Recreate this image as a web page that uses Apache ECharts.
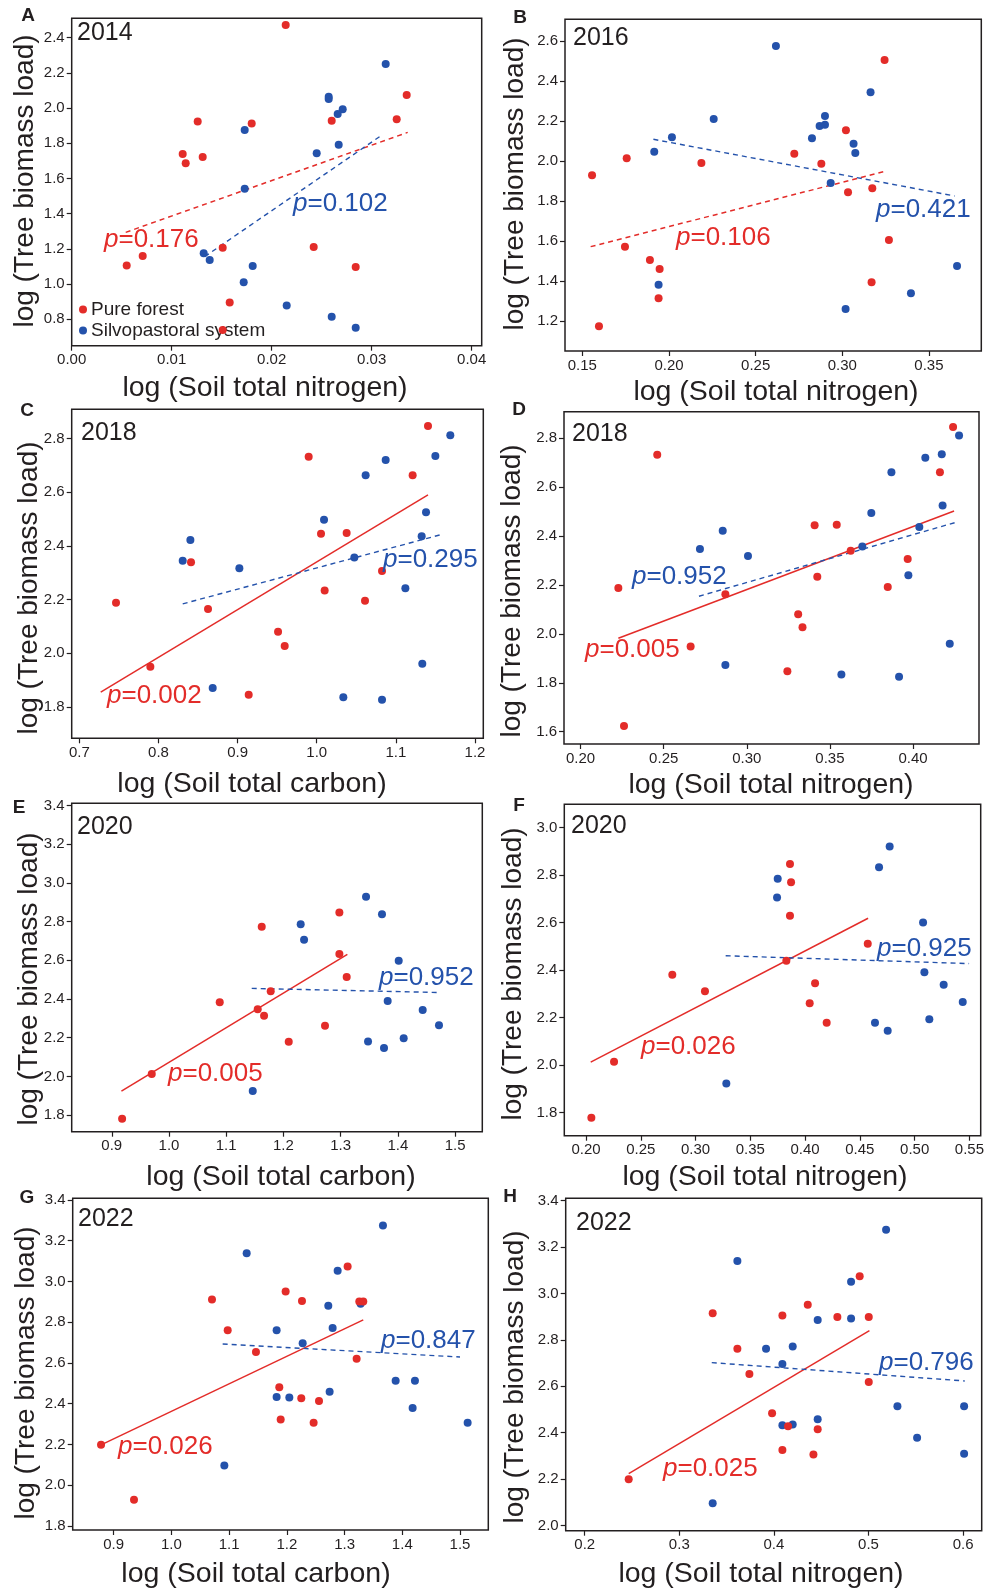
<!DOCTYPE html>
<html>
<head>
<meta charset="utf-8">
<script src="https://cdn.jsdelivr.net/npm/echarts@6/dist/echarts.min.js"></script>
<style>html,body{margin:0;padding:0;background:#fff;}#c{width:988px;height:1588px;}</style>
</head>
<body>
<div id="c"></div>
<script>
// ---------------- DATA ----------------
const panelLetters = ['A','B','C','D','E','F','G','H'];
const years = ['2014','2016','2018','2018','2020','2020','2022','2022'];
const pRed = ['0.176','0.106','0.002','0.005','0.005','0.026','0.026','0.025'];
const pBlue = ['0.102','0.421','0.295','0.952','0.952','0.925','0.847','0.796'];
const xTitles = ['log (Soil total nitrogen)','log (Soil total nitrogen)','log (Soil total carbon)','log (Soil total nitrogen)',
                 'log (Soil total carbon)','log (Soil total nitrogen)','log (Soil total carbon)','log (Soil total nitrogen)'];
const yTitle = 'log (Tree biomass load)';
const legendNames = ['Pure forest','Silvopastoral system'];

const xTicksA = [0,0.01,0.02,0.03,0.04];
const yTicksA = [0.8,1.0,1.2,1.4,1.6,1.8,2.0,2.2,2.4];
const xTicksB = [0.15,0.20,0.25,0.30,0.35];
const yTicksB = [1.2,1.4,1.6,1.8,2.0,2.2,2.4,2.6];
const xTicksC = [0.7,0.8,0.9,1.0,1.1,1.2];
const yTicksC = [1.8,2.0,2.2,2.4,2.6,2.8];
const xTicksD = [0.20,0.25,0.30,0.35,0.40];
const yTicksD = [1.6,1.8,2.0,2.2,2.4,2.6,2.8];
const xTicksE = [0.9,1.0,1.1,1.2,1.3,1.4,1.5];
const yTicksE = [1.8,2.0,2.2,2.4,2.6,2.8,3.0,3.2,3.4];
const xTicksF = [0.20,0.25,0.30,0.35,0.40,0.45,0.50,0.55];
const yTicksF = [1.8,2.0,2.2,2.4,2.6,2.8,3.0];
const xTicksG = [0.9,1.0,1.1,1.2,1.3,1.4,1.5];
const yTicksG = [1.8,2.0,2.2,2.4,2.6,2.8,3.0,3.2,3.4];
const xTicksH = [0.2,0.3,0.4,0.5,0.6];
const yTicksH = [2.0,2.2,2.4,2.6,2.8,3.0,3.2,3.4];

const redA = [[0.0214,2.472],[0.0126,1.923],[0.018,1.913],[0.0111,1.739],[0.0114,1.686],[0.0131,1.722],[0.026,1.928],[0.0325,1.936],[0.0335,2.074],[0.0151,1.207],[0.0242,1.211],[0.0055,1.106],[0.0071,1.159],[0.0284,1.097],[0.0158,0.896],[0.0151,0.739]];
const blueA = [[0.0314,2.25],[0.0257,2.065],[0.0257,2.052],[0.0271,1.993],[0.0266,1.966],[0.0267,1.792],[0.0245,1.743],[0.0173,1.875],[0.0173,1.542],[0.0132,1.175],[0.0138,1.137],[0.0181,1.103],[0.0172,1.01],[0.0215,0.879],[0.026,0.815],[0.0284,0.752]];
const fitRedA = [[0.0054,1.294],[0.0336,1.862]];
const fitBlueA = [[0.0133,1.156],[0.0308,1.838]];

const redB = [[0.3244,2.505],[0.3021,2.154],[0.2723,2.037],[0.2879,1.987],[0.2187,1.991],[0.1756,2.014],[0.1556,1.929],[0.3033,1.844],[0.3173,1.864],[0.3269,1.606],[0.3169,1.395],[0.1746,1.573],[0.189,1.506],[0.1946,1.461],[0.194,1.315],[0.1596,1.175]];
const blueB = [[0.2617,2.575],[0.3163,2.344],[0.2258,2.21],[0.29,2.225],[0.2869,2.175],[0.29,2.182],[0.2825,2.114],[0.2017,2.119],[0.1915,2.047],[0.3065,2.087],[0.3075,2.041],[0.2933,1.891],[0.194,1.383],[0.3019,1.262],[0.3396,1.34],[0.3662,1.476]];
const fitRedB = [[0.1548,1.573],[0.3237,1.947]];
const fitBlueB = [[0.191,2.109],[0.3648,1.826]];

const redC = [[1.1406,2.847],[0.9898,2.732],[1.1212,2.663],[1.0054,2.445],[1.0378,2.448],[0.8411,2.339],[1.0825,2.306],[1.01,2.234],[1.061,2.196],[0.7463,2.188],[0.8626,2.165],[0.9511,2.08],[0.9595,2.027],[0.7897,1.95],[0.914,1.845]];
const blueC = [[1.1688,2.812],[1.1499,2.735],[1.0871,2.72],[1.0618,2.663],[1.0092,2.497],[1.1381,2.525],[1.1326,2.436],[0.8403,2.422],[0.8306,2.345],[0.9022,2.317],[1.0475,2.357],[1.112,2.242],[1.1334,1.961],[0.8685,1.87],[1.0336,1.836],[1.0825,1.827]];
const fitRedC = [[0.727,1.855],[1.1406,2.59]];
const fitBlueC = [[0.8306,2.184],[1.1583,2.443]];

const redD = [[0.4241,2.846],[0.2461,2.733],[0.4162,2.661],[0.3408,2.444],[0.3541,2.447],[0.3625,2.34],[0.3968,2.306],[0.3424,2.234],[0.3848,2.192],[0.2227,2.188],[0.2871,2.162],[0.3309,2.08],[0.3335,2.027],[0.2662,1.948],[0.3244,1.847],[0.2261,1.623]];
const blueD = [[0.4277,2.812],[0.4173,2.735],[0.4074,2.721],[0.387,2.661],[0.3749,2.495],[0.4178,2.525],[0.4038,2.437],[0.3695,2.358],[0.2855,2.422],[0.2718,2.347],[0.3007,2.319],[0.3972,2.24],[0.4221,1.96],[0.2871,1.873],[0.3569,1.834],[0.3916,1.825]];
const fitRedD = [[0.2227,1.982],[0.4247,2.503]];
const fitBlueD = [[0.2712,2.154],[0.4251,2.455]];

const redE = [[1.2978,2.847],[1.1621,2.774],[1.2978,2.633],[1.3106,2.514],[1.1778,2.44],[1.0887,2.383],[1.1551,2.347],[1.1662,2.314],[1.2727,2.262],[1.2093,2.179],[0.9699,2.012],[0.9181,1.781]];
const blueE = [[1.3444,2.929],[1.3723,2.838],[1.2302,2.786],[1.2361,2.707],[1.4015,2.598],[1.3822,2.39],[1.4434,2.343],[1.4719,2.264],[1.3479,2.181],[1.3758,2.147],[1.4102,2.197],[1.1464,1.924]];
const fitRedE = [[0.9169,1.924],[1.3118,2.631]];
const fitBlueE = [[1.1446,2.455],[1.4678,2.434]];

const redF = [[0.3862,2.847],[0.3872,2.77],[0.3862,2.629],[0.4572,2.511],[0.3829,2.439],[0.2788,2.38],[0.3086,2.31],[0.4091,2.344],[0.4042,2.26],[0.4197,2.178],[0.2256,2.014],[0.2049,1.778]];
const blueF = [[0.4772,2.92],[0.4675,2.833],[0.375,2.784],[0.3744,2.705],[0.5077,2.6],[0.5089,2.39],[0.5265,2.338],[0.5439,2.265],[0.5134,2.193],[0.4638,2.178],[0.4754,2.144],[0.3281,1.922]];
const fitRedF = [[0.2043,2.012],[0.4575,2.618]];
const fitBlueF = [[0.3275,2.46],[0.5497,2.427]];

const redG = [[1.3053,3.073],[1.1979,2.95],[1.0703,2.911],[1.2262,2.904],[1.3255,2.901],[1.3324,2.901],[1.0975,2.76],[1.1465,2.654],[1.3209,2.621],[1.1869,2.481],[1.225,2.427],[1.2557,2.413],[1.1893,2.322],[1.2464,2.306],[0.8781,2.198],[0.9352,1.928]];
const blueG = [[1.3665,3.274],[1.1304,3.138],[1.288,3.052],[1.2718,2.881],[1.3278,2.891],[1.1823,2.76],[1.2793,2.772],[1.2274,2.697],[1.3885,2.512],[1.4219,2.512],[1.4179,2.379],[1.5132,2.306],[1.2741,2.459],[1.1823,2.433],[1.2043,2.43],[1.0917,2.096]];
const fitRedG = [[0.8781,2.198],[1.3324,2.811]];
const fitBlueG = [[1.0888,2.693],[1.5,2.629]];

const redH = [[0.4907,3.074],[0.4358,2.951],[0.3353,2.915],[0.409,2.905],[0.4671,2.899],[0.5003,2.899],[0.3614,2.762],[0.3741,2.653],[0.5003,2.619],[0.3981,2.484],[0.415,2.428],[0.4463,2.415],[0.409,2.326],[0.4418,2.306],[0.2465,2.2]];
const blueH = [[0.5186,3.275],[0.3614,3.14],[0.4816,3.051],[0.4463,2.886],[0.4816,2.892],[0.3917,2.762],[0.4199,2.772],[0.409,2.696],[0.5306,2.514],[0.6011,2.514],[0.5514,2.378],[0.6011,2.309],[0.4463,2.458],[0.409,2.432],[0.4199,2.435],[0.3353,2.096]];
const fitRedH = [[0.2465,2.224],[0.501,2.84]];
const fitBlueH = [[0.3343,2.702],[0.6018,2.623]];

// ---------------- LAYOUT / STYLE ----------------
const FONT = '"Liberation Sans", Arial, Helvetica, sans-serif';
const RED = '#e32c29', BLUE = '#2452ab', TXT = '#231f20';

const panels = [
  {red:redA, blue:blueA, fr:fitRedA, fb:fitBlueA, xt:xTicksA, yt:yTicksA, xd:2, yd:1, solid:false,
   g:[71.7,18.3,410,327.4], xr:[0,0.041], yr:[0.65,2.51], L:[28,16], Y:[77,33], PR:[104,240], PB:[293,204], XT:[265,388], YT:[25,181]},
  {red:redB, blue:blueB, fr:fitRedB, fb:fitBlueB, xt:xTicksB, yt:yTicksB, xd:2, yd:1, solid:false,
   g:[565,19.3,416.3,331.7], xr:[0.14,0.3802], yr:[1.052,2.708], L:[520,18], Y:[573,38], PR:[676,238], PB:[876,210], XT:[776,392], YT:[515,184]},
  {red:redC, blue:blueC, fr:fitRedC, fb:fitBlueC, xt:xTicksC, yt:yTicksC, xd:1, yd:1, solid:true,
   g:[71.7,409.3,411.6,329], xr:[0.6903,1.2105], yr:[1.683,2.909], L:[27,411], Y:[81,433], PR:[107,696], PB:[383,560], XT:[252,784], YT:[29,588]},
  {red:redD, blue:blueD, fr:fitRedD, fb:fitBlueD, xt:xTicksD, yt:yTicksD, xd:2, yd:1, solid:true,
   g:[564,411.7,415,332.3], xr:[0.19,0.4397], yr:[1.5495,2.909], L:[519,410], Y:[572,434], PR:[585,650], PB:[632,577], XT:[771,785], YT:[512,591]},
  {red:redE, blue:blueE, fr:fitRedE, fb:fitBlueE, xt:xTicksE, yt:yTicksE, xd:1, yd:1, solid:true,
   g:[71.7,803.3,410.6,328.4], xr:[0.83,1.5476], yr:[1.714,3.412], L:[19,808], Y:[77,827], PR:[168,1074], PB:[379,978], XT:[281,1177], YT:[29,979]},
  {red:redF, blue:blueF, fr:fitRedF, fb:fitBlueF, xt:xTicksF, yt:yTicksF, xd:2, yd:1, solid:true,
   g:[564.3,804.3,416.4,331.4], xr:[0.1802,0.5603], yr:[1.702,3.098], L:[519,806], Y:[571,826], PR:[641,1047], PB:[877,949], XT:[765,1177], YT:[513,974]},
  {red:redG, blue:blueG, fr:fitRedG, fb:fitBlueG, xt:xTicksG, yt:yTicksG, xd:1, yd:1, solid:true,
   g:[72.7,1198.3,415.6,331.7], xr:[0.829,1.549], yr:[1.78,3.408], L:[27,1198], Y:[78,1219], PR:[118,1447], PB:[381,1341], XT:[256,1574], YT:[26,1373]},
  {red:redH, blue:blueH, fr:fitRedH, fb:fitBlueH, xt:xTicksH, yt:yTicksH, xd:1, yd:1, solid:true,
   g:[565.7,1198.3,416,332.4], xr:[0.1799,0.6197], yr:[1.978,3.41], L:[510,1197], Y:[576,1223], PR:[663,1469], PB:[879,1363], XT:[761,1574], YT:[515,1377]}
];

const grid = [], xAxis = [], yAxis = [], series = [], graphic = [];
const tickStyle = {color: TXT, width: 1.2};

panels.forEach((p, i) => {
  grid.push({left:p.g[0], top:p.g[1], width:p.g[2], height:p.g[3], show:true,
             borderColor:TXT, borderWidth:1.5, backgroundColor:'transparent'});
  xAxis.push({type:'value', gridIndex:i, min:p.xr[0], max:p.xr[1],
    axisLine:{show:false}, splitLine:{show:false},
    axisTick:{show:true, length:5, customValues:p.xt, lineStyle:tickStyle},
    axisLabel:{customValues:p.xt, formatter:(v)=>Number(v).toFixed(p.xd), fontSize:15, color:TXT, margin:7, fontFamily:FONT}});
  yAxis.push({type:'value', gridIndex:i, min:p.yr[0], max:p.yr[1],
    axisLine:{show:false}, splitLine:{show:false},
    axisTick:{show:true, length:5, customValues:p.yt, lineStyle:tickStyle},
    axisLabel:{customValues:p.yt, formatter:(v)=>Number(v).toFixed(p.yd), fontSize:15, color:TXT, margin:7, fontFamily:FONT}});

  series.push({type:'line', xAxisIndex:i, yAxisIndex:i, data:p.fr, symbol:'none', silent:true, z:2,
               lineStyle:{color:RED, width:1.5, type: p.solid ? 'solid' : [5,4]}});
  series.push({type:'line', xAxisIndex:i, yAxisIndex:i, data:p.fb, symbol:'none', silent:true, z:2,
               lineStyle:{color:BLUE, width:1.4, type:[5,4]}});
  series.push({type:'scatter', name:legendNames[1], xAxisIndex:i, yAxisIndex:i, data:p.blue, symbolSize:8, z:3,
               itemStyle:{color:BLUE, opacity:1}});
  series.push({type:'scatter', name:legendNames[0], xAxisIndex:i, yAxisIndex:i, data:p.red, symbolSize:8, z:4,
               itemStyle:{color:RED, opacity:1}});

  graphic.push({type:'text', x:p.L[0], y:p.L[1], style:{text:panelLetters[i], font:'bold 19px '+FONT, fill:TXT, textAlign:'center', textVerticalAlign:'middle'}});
  graphic.push({type:'text', x:p.Y[0], y:p.Y[1], style:{text:years[i], font:'25px '+FONT, fill:TXT, textAlign:'left', textVerticalAlign:'middle'}});
  graphic.push({type:'text', x:p.PR[0], y:p.PR[1], z:10, style:{text:'{i|p}=' + pRed[i], font:'26px '+FONT, fill:RED, textAlign:'left', textVerticalAlign:'middle',
     rich:{i:{fontStyle:'italic', fontSize:26, fontFamily:FONT, fill:RED}}}});
  graphic.push({type:'text', x:p.PB[0], y:p.PB[1], z:10, style:{text:'{i|p}=' + pBlue[i], font:'26px '+FONT, fill:BLUE, textAlign:'left', textVerticalAlign:'middle',
     rich:{i:{fontStyle:'italic', fontSize:26, fontFamily:FONT, fill:BLUE}}}});
  graphic.push({type:'text', x:p.XT[0], y:p.XT[1], style:{text:xTitles[i], font:'28.5px '+FONT, fill:TXT, textAlign:'center', textVerticalAlign:'middle'}});
  graphic.push({type:'text', x:p.YT[0], y:p.YT[1], rotation:Math.PI/2, style:{text:yTitle, font:'28px '+FONT, fill:TXT, textAlign:'center', textVerticalAlign:'middle'}});
});

const option = {
  animation:false,
  backgroundColor:'#ffffff',
  grid, xAxis, yAxis, series, graphic,
  legend:{data:legendNames, orient:'vertical', left:79, top:300, padding:0, itemGap:2, itemWidth:8, itemHeight:8, icon:'circle',
          textStyle:{fontSize:19, color:TXT, fontFamily:FONT, padding:[0,0,0,-1]}, selectedMode:false}
};

const chart = echarts.init(document.getElementById('c'), null, {renderer:'canvas'});
chart.setOption(option);
</script>
</body>
</html>
